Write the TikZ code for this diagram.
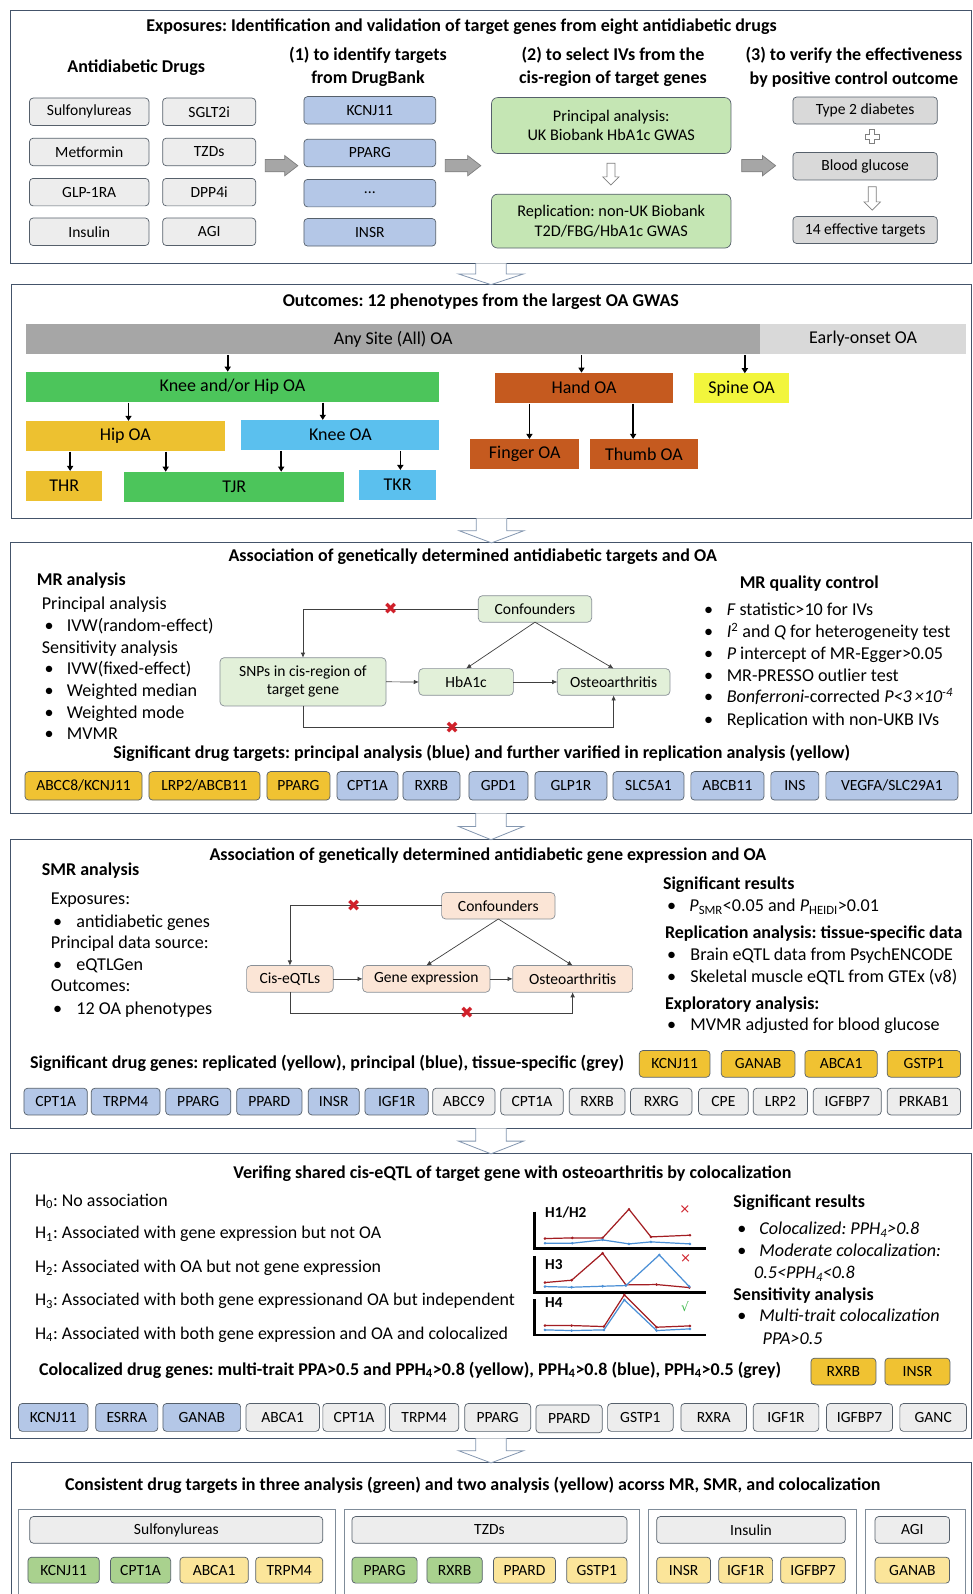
\documentclass[tikz,border=0pt]{standalone}
\usepackage{fontspec}
\setmainfont{Carlito}
\newfontfamily\dejavu{DejaVu Sans}
\usetikzlibrary{arrows.meta,calc}
\frenchspacing
\definecolor{secb}{HTML}{44546A}
\definecolor{boxb}{HTML}{56606B}
\definecolor{arrb}{HTML}{8497B0}
\definecolor{gry1}{HTML}{EDEDED}
\definecolor{gry2}{HTML}{D9D9D9}
\definecolor{blu}{HTML}{B4C7E7}
\definecolor{grn1}{HTML}{C5E6B4}
\definecolor{grnL}{HTML}{E2F0D9}
\definecolor{peach}{HTML}{FBE5D6}
\definecolor{goldc}{HTML}{F0C232}
\definecolor{sgrey}{HTML}{A6A6A6}
\definecolor{slgrey}{HTML}{D9D9D9}
\definecolor{sgreen}{HTML}{4CC55B}
\definecolor{sorange}{HTML}{C55A1F}
\definecolor{syellow}{HTML}{F2F53C}
\definecolor{sgold}{HTML}{EDC130}
\definecolor{sblue}{HTML}{5BC0EE}
\definecolor{cgreen}{HTML}{A9D18E}
\definecolor{cyellow}{HTML}{FBE59A}
\definecolor{pred}{HTML}{A31D22}
\definecolor{pblue}{HTML}{4A8FD6}
\definecolor{xred}{HTML}{D0202A}
\definecolor{okgreen}{HTML}{3CB94A}
\definecolor{garrf}{HTML}{A6A6A6}
\definecolor{garrb}{HTML}{7F7F7F}
\definecolor{grpb}{HTML}{7F8C99}
\definecolor{lnc}{HTML}{404040}
\newcommand\ftitle{\fontsize{17.7}{21}\selectfont\bfseries}
\newcommand\fhead{\fontsize{17.7}{23}\selectfont\bfseries}
\newcommand\fbody{\fontsize{17.8}{21}\selectfont}
\newcommand\fbodyb{\fontsize{17.7}{21}\selectfont\bfseries}
\newcommand\fgene{\fontsize{15.3}{18}\selectfont}
\newcommand\fsub{\fontsize{17.7}{21}\selectfont\bfseries}
\newcommand\fbar{\fontsize{17.7}{21}\selectfont}
\newcommand\fgreen{\fontsize{16}{19}\selectfont}
\newcommand\bul[1]{\makebox[#1pt][l]{•}}
\newcommand{\bx}[7]{\node[#2, minimum width={(#4)-(#3)}, minimum height={(#6)-(#5)}] (#1) at ({((#3)+(#4))/2},{((#5)+(#6))/2}) {#7};}
\newcommand{\secarrow}[2]{\draw[harr] let \p1=(#1.south), \p2=(#2.north) in (\x1-15pt,\y1) -- (\x1-15pt,{0.5*\y1+0.5*\y2}) -- (\x1-32pt,{0.5*\y1+0.5*\y2}) -- (\x1,\y2) -- (\x1+32pt,{0.5*\y1+0.5*\y2}) -- (\x1+15pt,{0.5*\y1+0.5*\y2}) -- (\x1+15pt,\y1);}
\newcommand{\rarrow}[3]{\draw[garr] (#1,#3-6) -- (#2-13,#3-6) -- (#2-13,#3-10) -- (#2,#3) -- (#2-13,#3+10) -- (#2-13,#3+6) -- (#1,#3+6) -- cycle;}
\newcommand{\smalldown}[3]{\draw[sarr] (#1-4,#2) -- (#1-4,#3-8) -- (#1-8,#3-8) -- (#1,#3) -- (#1+8,#3-8) -- (#1+4,#3-8) -- (#1+4,#2) -- cycle;}
\newcommand{\plus}[2]{\draw[sarr] (#1-2.5,#2-7) -- (#1+2.5,#2-7) -- (#1+2.5,#2-2.5) -- (#1+7,#2-2.5) -- (#1+7,#2+2.5) -- (#1+2.5,#2+2.5) -- (#1+2.5,#2+7) -- (#1-2.5,#2+7) -- (#1-2.5,#2+2.5) -- (#1-7,#2+2.5) -- (#1-7,#2-2.5) -- (#1-2.5,#2-2.5) -- cycle;}
\begin{document}
\begin{tikzpicture}[x=1pt,y=-1pt,
  sec/.style={draw=secb, line width=0.9pt, inner sep=0pt, outer sep=0pt},
  grp/.style={draw=grpb, line width=0.8pt, inner sep=0pt, outer sep=0pt},
  gbx/.style={draw=boxb, line width=0.7pt, rounded corners=3.5pt, inner sep=0pt, outer sep=0pt, font=\fgene, align=center},
  dg/.style={gbx, draw=boxb!70, rounded corners=4pt},
  fl/.style={inner sep=0pt, outer sep=0pt, font=\fbar},
  harr/.style={draw=arrb, fill=white, line width=0.8pt},
  garr/.style={draw=garrb, fill=garrf, line width=0.7pt},
  sarr/.style={draw=garrb, fill=white, line width=0.7pt},
  blk/.style={draw=black, line width=1.6pt, -{Triangle[width=6pt,length=5pt]}, shorten <=1pt},
  ln/.style={draw=lnc, line width=0.7pt, -{Latex[length=5pt,width=4.5pt]}},
  xm/.style={text=xred, font=\dejavu\fontsize{16}{16}\selectfont, inner sep=0pt},
  txt/.style={anchor=mid west, inner sep=0pt, font=\fbody, yshift=-3.5pt},
  txtb/.style={anchor=mid west, inner sep=0pt, font=\fbodyb, yshift=-3.5pt},
]
\useasboundingbox (0,0) rectangle (957,1568);
\fill[white] (0,0) rectangle (957,1568);

% ---------- section frames ----------
\bx{s1}{sec}{10}{956}{10}{259}{}
\bx{s2}{sec}{11}{956}{280}{510}{}
\bx{s3}{sec}{10}{956}{534}{800}{}
\bx{s4}{sec}{10}{956}{826}{1110}{}
\bx{s5}{sec}{10}{956}{1135}{1415}{}
\bx{s6}{sec}{11}{956}{1439}{1590}{}
\secarrow{s1}{s2}
\secarrow{s2}{s3}
\secarrow{s3}{s4}
\secarrow{s4}{s5}
\secarrow{s5}{s6}

% ---------- section 1 ----------
\node[font=\ftitle] (t1) at (454,26.5) {Exposures: Identification and validation of target genes from eight antidiabetic drugs};
\node[font=\fhead] (h0) at (134,67) {Antidiabetic Drugs};
\node[font=\fhead, align=center] (h1) at (362,66) {(1) to identify targets\\from DrugBank};
\node[font=\fhead, align=center] (h2) at (603,66) {(2) to select IVs from the\\cis-region of target genes};
\node[font=\fhead, align=center] (h3) at (840,66) {(3) to verify the effectiveness\\by positive control outcome};
\bx{d1}{gbx,fill=gry1}{29}{146.5}{96.5}{123.5}{Sulfonylureas}
\bx{d2}{gbx,fill=gry1}{160}{251.5}{96.5}{123.5}{SGLT2i}
\bx{d3}{gbx,fill=gry1}{29}{146.5}{136}{163}{Metformin}
\bx{d4}{gbx,fill=gry1}{160}{251.5}{136}{163}{TZDs}
\bx{d5}{gbx,fill=gry1}{29}{146.5}{175.5}{202.5}{GLP-1RA}
\bx{d6}{gbx,fill=gry1}{160}{251.5}{175.5}{202.5}{DPP4i}
\bx{d7}{gbx,fill=gry1}{29}{146.5}{214.5}{241.5}{Insulin}
\bx{d8}{gbx,fill=gry1}{160}{251.5}{214.5}{241.5}{AGI}
\bx{k1}{gbx,fill=blu}{299}{428.6}{95}{122}{KCNJ11}
\bx{k2}{gbx,fill=blu}{299}{428.6}{137}{164}{PPARG}
\bx{k3}{gbx,fill=blu}{299}{428.6}{176.5}{203.5}{...}
\bx{k4}{gbx,fill=blu}{299}{428.6}{215}{242}{INSR}
\bx{g1}{gbx,fill=grn1,rounded corners=6pt,font=\fgreen}{483.5}{719}{96}{151}{Principal analysis:\\UK Biobank HbA1c GWAS}
\bx{g2}{gbx,fill=grn1,rounded corners=6pt,font=\fgreen}{483.5}{719}{191}{244}{Replication: non-UK Biobank\\T2D/FBG/HbA1c GWAS}
\bx{r1}{gbx,fill=gry2}{780}{922}{95.5}{122}{Type 2 diabetes}
\bx{r2}{gbx,fill=gry2}{780}{922}{150}{177}{Blood glucose}
\bx{r3}{gbx,fill=gry2}{780}{922}{213}{239.5}{14 effective targets}
\rarrow{261}{293}{163}
\rarrow{438}{473}{163}
\rarrow{729.6}{763}{163}
\smalldown{601}{160.6}{182}
\smalldown{858}{183.6}{206.6}
\plus{858}{134.4}

% ---------- section 2 ----------
\node[font=\ftitle] (t2) at (473,297) {Outcomes: 12 phenotypes from the largest OA GWAS};
\bx{any}{fl,fill=sgrey}{25.6}{748}{319}{348.2}{Any Site (All) OA}
\bx{early}{fl,fill=slgrey}{748}{950}{319}{348.2}{Early-onset OA}
\bx{kh}{fl,fill=sgreen}{25.6}{431.7}{365.6}{395}{Knee and/or Hip OA}
\bx{hand}{fl,fill=sorange}{486.6}{662.4}{366.6}{396}{Hand OA}
\bx{spine}{fl,fill=syellow}{682.6}{776.6}{367.2}{396.7}{Spine OA}
\bx{hip}{fl,fill=sgold}{25.6}{221}{414}{443.3}{Hip OA}
\bx{knee}{fl,fill=sblue}{237.5}{432.3}{413}{442.6}{Knee OA}
\bx{fing}{fl,fill=sorange}{462.8}{569.6}{431.8}{461.3}{Finger OA}
\bx{thumb}{fl,fill=sorange}{580}{686.8}{431.8}{461.3}{Thumb OA}
\bx{thr}{fl,fill=sgold}{25.6}{100.7}{463.3}{492.5}{THR}
\bx{tjr}{fl,fill=sgreen}{122}{338.8}{464}{493.5}{TJR}
\bx{tkr}{fl,fill=sblue}{353}{429.2}{462.3}{491.8}{TKR}
\coordinate (xa) at (224,0);
\coordinate (xb) at (572,0);
\coordinate (xc) at (732.7,0);
\coordinate (xd) at (126.4,0);
\coordinate (xe) at (317.5,0);
\coordinate (xf) at (520.8,0);
\coordinate (xg) at (622.8,0);
\coordinate (xh) at (69,0);
\coordinate (xi) at (163,0);
\coordinate (xj) at (276.6,0);
\coordinate (xk) at (393.8,0);
\draw[blk] (xa |- any.south) -- (xa |- kh.north);
\draw[blk] (xb |- any.south) -- (xb |- hand.north);
\draw[blk] (xc |- any.south) -- (xc |- spine.north);
\draw[blk] (xd |- kh.south) -- (xd |- hip.north);
\draw[blk] (xe |- kh.south) -- (xe |- knee.north);
\draw[blk] (xf |- hand.south) -- (xf |- fing.north);
\draw[blk] (xg |- hand.south) -- (xg |- thumb.north);
\draw[blk] (xh |- hip.south) -- (xh |- thr.north);
\draw[blk] (xi |- hip.south) -- (xi |- tjr.north);
\draw[blk] (xj |- knee.south) -- (xj |- tjr.north);
\draw[blk] (xk |- knee.south) -- (xk |- tkr.north);

% ---------- section 3 ----------
\node[font=\ftitle] (t3) at (465,548) {Association of genetically determined antidiabetic targets and OA};
\node[txtb] (mr) at (36,570.5) {MR analysis};
\node[txt] (mr1) at (41,593.4) {Principal analysis};
\node[txt] (mr2) at (43.6,615.4) {\bul{22}IVW(random-effect)};
\node[txt] (mr3) at (41,637) {Sensitivity analysis};
\node[txt] (mr4) at (43.6,658) {\bul{22}IVW(fixed-effect)};
\node[txt] (mr5) at (43.6,679.7) {\bul{22}Weighted median};
\node[txt] (mr6) at (43.6,701) {\bul{22}Weighted mode};
\node[txt] (mr7) at (43.6,722) {\bul{22}MVMR};
\bx{snp}{dg,fill=grnL}{216.4}{379.7}{647}{694.4}{SNPs in cis-region of\\target gene}
\bx{hb}{dg,fill=grnL}{412}{505}{657.7}{684}{HbA1c}
\bx{oa}{dg,fill=grnL}{548.2}{659}{657.7}{684}{Osteoarthritis}
\bx{conf}{dg,fill=grnL}{470.5}{582}{586}{612}{Confounders}
\draw[ln] (conf.west) -| node[xm, pos=0.25] (xa1) {✖} (snp.north);
\draw[ln] (conf.south) -- (hb.north);
\draw[ln] (conf.south) -- (oa.north);
\draw[ln] (snp.east) -- (hb.west);
\draw[ln] (hb.east) -- (oa.west);
\draw[ln] (snp.south) -- ++(0,21.3) -| node[xm, pos=0.24] (xa2) {✖} (oa.south);
\node[txtb, anchor=center, yshift=2pt] (qc) at (796,573) {MR quality control};
\node[txt] (q1) at (692.5,599.3) {\bul{22.2}\textit{F} statistic>10 for IVs};
\node[txt] (q2) at (692.5,621.3) {\bul{22.2}\textit{I}\textsuperscript{2} and \textit{Q} for heterogeneity test};
\node[txt] (q3) at (692.5,642.6) {\bul{22.2}\textit{P} intercept of MR-Egger>0.05};
\node[txt] (q4) at (692.5,664) {\bul{22.2}MR-PRESSO outlier test};
\node[txt] (q5) at (692.5,685.2) {\bul{22.2}\textit{Bonferroni}-corrected \textit{P<3\,×10\textsuperscript{-4}}};
\node[txt] (q6) at (692.5,707.5) {\bul{22.2}Replication with non-UKB IVs};
\node[font=\fsub] (st3) at (473.8,741.5) {Significant drug targets: principal analysis (blue) and further varified in replication analysis (yellow)};
\bx{m1}{gbx,fill=goldc}{24.6}{139.7}{759}{787}{ABCC8/KCNJ11}
\bx{m2}{gbx,fill=goldc}{146.5}{255.7}{759}{787}{LRP2/ABCB11}
\bx{m3}{gbx,fill=goldc}{262.6}{324.6}{759}{787}{PPARG}
\bx{m4}{gbx,fill=blu}{331.5}{391.5}{759}{787}{CPT1A}
\bx{m5}{gbx,fill=blu}{396.4}{452.4}{759}{787}{RXRB}
\bx{m6}{gbx,fill=blu}{461.3}{519.3}{759}{787}{GPD1}
\bx{m7}{gbx,fill=blu}{526.2}{597}{759}{787}{GLP1R}
\bx{m8}{gbx,fill=blu}{603}{672.8}{759}{787}{SLC5A1}
\bx{m9}{gbx,fill=blu}{679.6}{751.5}{759}{787}{ABCB11}
\bx{m10}{gbx,fill=blu}{758.3}{805.5}{759}{787}{INS}
\bx{m11}{gbx,fill=blu}{812.4}{942.3}{759}{787}{VEGFA/SLC29A1}

% ---------- section 4 ----------
\node[font=\ftitle] (t4) at (480,842) {Association of genetically determined antidiabetic gene expression and OA};
\node[txtb] (smr) at (41,855) {SMR analysis};
\node[txt] (sm1) at (49.8,884) {Exposures:};
\node[txt] (sm2) at (52,906) {\bul{23}antidiabetic genes};
\node[txt] (sm3) at (49.8,927.6) {Principal data source:};
\node[txt] (sm4) at (52,948.8) {\bul{23}eQTLGen};
\node[txt] (sm5) at (49.8,969.5) {Outcomes:};
\node[txt] (sm6) at (52,992) {\bul{23}12 OA phenotypes};
\bx{cis}{dg,fill=peach}{242.6}{327.8}{949.8}{976}{Cis-eQTLs}
\bx{ge}{dg,fill=peach}{356.7}{482}{949.8}{976}{Gene expression}
\bx{oa2}{dg,fill=peach}{504.3}{622.3}{949.8}{976}{Osteoarthritis}
\bx{conf2}{dg,fill=peach}{434.4}{546}{878}{904}{Confounders}
\draw[ln] (conf2.west) -| node[xm, pos=0.29] (xb1) {✖} (cis.north);
\draw[ln] (conf2.south) -- (ge.north);
\draw[ln] (conf2.south) -- (oa2.north);
\draw[ln] (cis.east) -- (ge.west);
\draw[ln] (ge.east) -- (oa2.west);
\draw[ln] (cis.south) -- ++(0,20.7) -| node[xm, pos=0.313] (xb2) {✖} (oa2.south);
\node[txtb] (sr) at (652,868.8) {Significant results};
\node[txt] (sr1) at (656,890.8) {\bul{22}\textit{P}\textsubscript{SMR}<0.05 and \textit{P}\textsubscript{HEIDI}>0.01};
\node[txtb] (sr2) at (654,917) {Replication analysis: tissue-specific data};
\node[txt] (sr3) at (656,939.3) {\bul{23}Brain eQTL data from PsychENCODE};
\node[txt] (sr4) at (656,960.6) {\bul{23}Skeletal muscle eQTL from GTEx (v8)};
\node[txtb] (sr5) at (654,986.9) {Exploratory analysis:};
\node[txt] (sr6) at (656,1008) {\bul{23}MVMR adjusted for blood glucose};
\node[font=\fsub, anchor=mid west, inner sep=0pt, yshift=-3.5pt] (st4) at (29.5,1045.2) {Significant drug genes: replicated (yellow), principal (blue), tissue-specific (grey)};
\bx{n1}{gbx,fill=goldc}{628.8}{698.4}{1033.4}{1059.6}{KCNJ11}
\bx{n2}{gbx,fill=goldc}{709.5}{782}{1033.4}{1059.6}{GANAB}
\bx{n3}{gbx,fill=goldc}{791.8}{862.9}{1033.4}{1059.6}{ABCA1}
\bx{n4}{gbx,fill=goldc}{872.7}{944.9}{1033.4}{1059.6}{GSTP1}
\bx{p1}{gbx,fill=blu}{23.6}{85.9}{1070.5}{1096.7}{CPT1A}
\bx{p2}{gbx,fill=blu}{89.8}{157.4}{1070.5}{1096.7}{TRPM4}
\bx{p3}{gbx,fill=blu}{163}{227}{1070.5}{1096.7}{PPARG}
\bx{p4}{gbx,fill=blu}{232.8}{297}{1070.5}{1096.7}{PPARD}
\bx{p5}{gbx,fill=blu}{303.2}{353.4}{1070.5}{1096.7}{INSR}
\bx{p6}{gbx,fill=blu}{359}{421.3}{1070.5}{1096.7}{IGF1R}
\bx{p7}{gbx,fill=gry1}{425.6}{486.9}{1070.5}{1096.7}{ABCC9}
\bx{p8}{gbx,fill=gry1}{492.5}{554}{1070.5}{1096.7}{CPT1A}
\bx{p9}{gbx,fill=gry1}{560}{614.7}{1070.5}{1096.7}{RXRB}
\bx{p10}{gbx,fill=gry1}{620.3}{680.6}{1070.5}{1096.7}{RXRG}
\bx{p11}{gbx,fill=gry1}{687.2}{736}{1070.5}{1096.7}{CPE}
\bx{p12}{gbx,fill=gry1}{741}{794.4}{1070.5}{1096.7}{LRP2}
\bx{p13}{gbx,fill=gry1}{800}{866.9}{1070.5}{1096.7}{IGFBP7}
\bx{p14}{gbx,fill=gry1}{872.7}{944.9}{1070.5}{1096.7}{PRKAB1}

% ---------- section 5 ----------
\node[font=\ftitle] (t5) at (504,1155) {Verifing shared cis-eQTL of target gene with osteoarthritis by colocalization};
\node[txt, font=\fontsize{17.6}{20}\selectfont] (hy0) at (34.3,1180.5) {H\textsubscript{0}: No association};
\node[txt, font=\fontsize{17.6}{20}\selectfont] (hy1) at (34.3,1212.8) {H\textsubscript{1}: Associated with gene expression but not OA};
\node[txt, font=\fontsize{17.6}{20}\selectfont] (hy2) at (34.3,1246) {H\textsubscript{2}: Associated with OA but not gene expression};
\node[txt, font=\fontsize{17.6}{20}\selectfont] (hy3) at (34.3,1278.3) {H\textsubscript{3}: Associated with both gene expressionand OA but independent};
\node[txt, font=\fontsize{17.6}{20}\selectfont] (hy4) at (34.3,1311.5) {H\textsubscript{4}: Associated with both gene expression and OA and colocalized};
\begin{scope}[shift={(491.8,1121.3)}, scale=0.32787]
  \draw[line width=2.6pt] (103,215) -- (103,325) -- (617,325);
  \draw[line width=2.6pt] (103,348) -- (103,457) -- (617,457);
  \draw[line width=2.6pt] (103,478) -- (103,585) -- (617,585);
  \draw[pred, line width=1.2pt] plot[mark=*, mark size=1.7pt, mark options={fill=pred}] coordinates {(135,296) (217,294) (308,294) (387,208) (453,291) (570,286)};
  \draw[pblue, line width=1.2pt] plot[mark=*, mark size=1.7pt, mark options={fill=pblue}] coordinates {(135,310) (217,310) (308,300) (387,312) (453,306) (570,312)};
  \draw[pred, line width=1.2pt] plot[mark=*, mark size=1.7pt, mark options={fill=pred}] coordinates {(135,428) (215,421) (308,340) (378,435) (470,434) (568,443)};
  \draw[pblue, line width=1.2pt] plot[mark=*, mark size=1.7pt, mark options={fill=pblue}] coordinates {(135,440) (215,442) (308,439) (378,437) (478,345) (568,440)};
  \draw[pred, line width=1.2pt] plot[mark=*, mark size=1.7pt, mark options={fill=pred}] coordinates {(135,557) (215,557) (312,560) (373,465) (470,562) (570,558)};
  \draw[pblue, line width=1.2pt] plot[mark=*, mark size=1.7pt, mark options={fill=pblue}] coordinates {(135,570) (215,572) (312,570) (373,480) (470,572) (570,567)};
  \node[anchor=mid west, inner sep=0pt, font=\fontsize{15}{15}\selectfont\bfseries] (pl1) at (135,226) {H1/H2};
  \node[anchor=mid west, inner sep=0pt, font=\fontsize{15}{15}\selectfont\bfseries] (pl2) at (135,383) {H3};
  \node[anchor=mid west, inner sep=0pt, font=\fontsize{15}{15}\selectfont\bfseries] (pl3) at (135,495) {H4};
  \node[text=xred, inner sep=0pt, font=\dejavu\fontsize{13}{13}\selectfont] (pm1) at (555,210) {×};
  \node[text=xred, inner sep=0pt, font=\dejavu\fontsize{13}{13}\selectfont] (pm2) at (557,355) {×};
  \node[text=okgreen, inner sep=0pt, font=\dejavu\fontsize{12}{12}\selectfont] (pm3) at (555,500) {√};
\end{scope}
\node[txtb] (cr) at (721.3,1182) {Significant results};
\node[txt] (cr1) at (725.2,1208.8) {\bul{21.7}\textit{Colocalized: PPH\textsubscript{4}>0.8}};
\node[txt] (cr2) at (725.2,1230.5) {\bul{21.7}\textit{Moderate colocalization:}};
\node[txt] (cr3) at (741.6,1251.8) {\textit{0.5<PPH\textsubscript{4}<0.8}};
\node[txtb] (cr4) at (721.3,1273) {Sensitivity analysis};
\node[txt] (cr5) at (725.2,1294.4) {\bul{21.7}\textit{Multi-trait colocalization}};
\node[txt] (cr6) at (750,1316.4) {\textit{PPA>0.5}};
\node[font=\fsub, anchor=mid west, inner sep=0pt, yshift=-3.5pt] (st5) at (38.2,1346.8) {Colocalized drug genes: multi-trait PPA>0.5 and PPH\textsubscript{4}>0.8 (yellow), PPH\textsubscript{4}>0.8 (blue), PPH\textsubscript{4}>0.5 (grey)};
\bx{c1}{gbx,fill=goldc}{797.7}{861.6}{1336}{1362.3}{RXRB}
\bx{c2}{gbx,fill=goldc}{870.5}{934.4}{1336}{1362.3}{INSR}
\bx{e1}{gbx,fill=blu}{18.3}{86.5}{1380.6}{1408}{KCNJ11}
\bx{e2}{gbx,fill=blu}{94.1}{155.3}{1380.6}{1408}{ESRRA}
\bx{e3}{gbx,fill=blu}{160.3}{236.7}{1380.6}{1408}{GANAB}
\bx{e4}{gbx,fill=gry1}{242}{314.2}{1380.6}{1408}{ABCA1}
\bx{e5}{gbx,fill=gry1}{317.6}{379}{1380.6}{1408}{CPT1A}
\bx{e6}{gbx,fill=gry1}{383.1}{451.2}{1380.6}{1408}{TRPM4}
\bx{e7}{gbx,fill=gry1}{457.2}{522}{1380.6}{1408}{PPARG}
\bx{e8}{gbx,fill=gry1}{527.2}{592.4}{1382}{1409.4}{PPARD}
\bx{e9}{gbx,fill=gry1}{597.7}{662.2}{1380.6}{1408}{GSTP1}
\bx{e10}{gbx,fill=gry1}{669.8}{734.4}{1380.6}{1408}{RXRA}
\bx{e11}{gbx,fill=gry1}{741}{805.5}{1380.6}{1408}{IGF1R}
\bx{e12}{gbx,fill=gry1}{813.1}{878}{1380.6}{1408}{IGFBP7}
\bx{e13}{gbx,fill=gry1}{885.2}{950.8}{1380.6}{1408}{GANC}

% ---------- section 6 ----------
\node[font=\ftitle] (t6) at (465,1461.5) {Consistent drug targets in three analysis (green) and two analysis (yellow) acorss MR, SMR, and colocalization};
\bx{gr1}{grp}{18.3}{329.7}{1485.2}{1590}{}
\bx{gr2}{grp}{338.8}{628.9}{1485.2}{1590}{}
\bx{gr3}{grp}{638}{842.5}{1485.2}{1590}{}
\bx{gr4}{grp}{851.7}{950}{1485.2}{1590}{}
\bx{f1}{gbx,fill=gry1}{29.3}{317.5}{1491.8}{1518}{Sulfonylureas}
\bx{f2}{gbx,fill=gry1}{346.2}{616.7}{1491.8}{1518}{TZDs}
\bx{f3}{gbx,fill=gry1}{646}{831.5}{1491.8}{1518}{Insulin}
\bx{f4}{gbx,fill=gry1}{860.8}{934.1}{1491.8}{1518}{AGI}
\bx{w1}{gbx,fill=cgreen}{27.5}{97.7}{1531.8}{1557.3}{KCNJ11}
\bx{w2}{gbx,fill=cgreen}{108.7}{167.9}{1531.8}{1557.3}{CPT1A}
\bx{w3}{gbx,fill=cyellow}{177}{244.2}{1531.8}{1557.3}{ABCA1}
\bx{w4}{gbx,fill=cyellow}{251.5}{317.5}{1531.8}{1557.3}{TRPM4}
\bx{w5}{gbx,fill=cgreen}{346.2}{410.3}{1531.8}{1557.3}{PPARG}
\bx{w6}{gbx,fill=cgreen}{420}{474.4}{1531.8}{1557.3}{RXRB}
\bx{w7}{gbx,fill=cyellow}{485.4}{546.5}{1531.8}{1557.3}{PPARD}
\bx{w8}{gbx,fill=cyellow}{557.4}{616.7}{1531.8}{1557.3}{GSTP1}
\bx{w9}{gbx,fill=cyellow}{646}{699}{1531.8}{1557.3}{INSR}
\bx{w10}{gbx,fill=cyellow}{707}{760}{1531.8}{1557.3}{IGF1R}
\bx{w11}{gbx,fill=cyellow}{768}{831.5}{1531.8}{1557.3}{IGFBP7}
\bx{w12}{gbx,fill=cyellow}{860.8}{934.1}{1531.8}{1557.3}{GANAB}
\end{tikzpicture}
\end{document}
